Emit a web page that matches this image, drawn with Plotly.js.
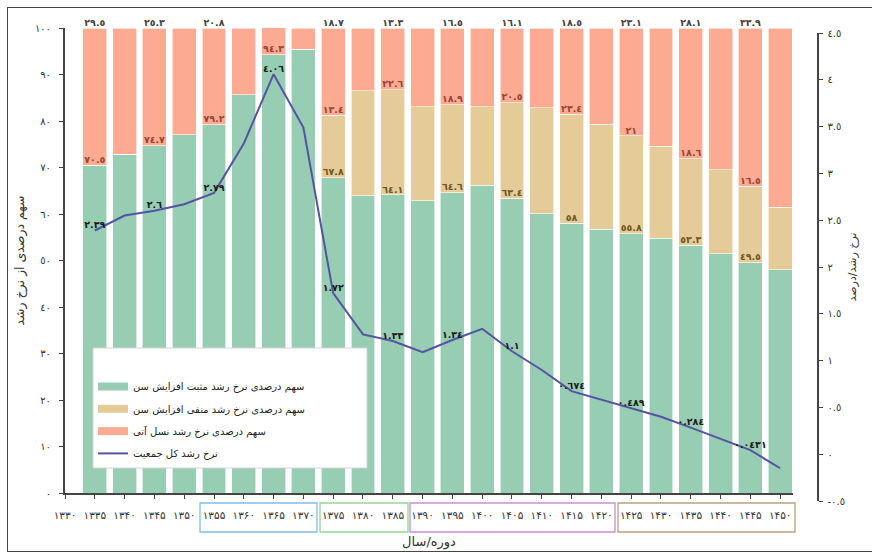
<!DOCTYPE html>
<html>
<head>
<meta charset="utf-8">
<script src="https://cdn.plot.ly/plotly-3.0.1.min.js"></script>
<style>
html,body{margin:0;padding:0;background:#fff;}
#wrap{position:relative;width:872px;height:552px;overflow:hidden;}
#chart{width:872px;height:552px;}
#frame{position:absolute;left:7px;top:7px;width:872px;height:545px;border:1.5px solid #444;box-sizing:border-box;pointer-events:none;}
</style>
</head>
<body>
<div id="wrap"><div id="chart"></div><div id="frame"></div></div>
<script>
// ---- data ----
const years = [1335,1340,1345,1350,1355,1360,1365,1370,1375,1380,1385,1390,1395,1400,1405,1410,1415,1420,1425,1430,1435,1440,1445,1450];
const positiveAging = [70.5,72.8,74.7,77.0,79.2,85.7,94.3,95.4,67.8,63.9,64.1,62.8,64.6,66.2,63.4,60.1,58,56.7,55.8,54.8,53.3,51.4,49.5,48.0];
const negativeAging = [0,0,0,0,0,0,0,0,13.4,22.6,22.6,20.3,18.9,16.9,20.5,22.8,23.4,22.6,21,19.8,18.6,18.1,16.5,13.4];
const nextGeneration = [29.5,27.2,25.3,23.0,20.8,14.3,5.71,4.6,18.7,13.5,13.3,16.9,16.5,16.9,16.1,17.1,18.5,20.7,23.1,25.4,28.1,30.5,33.9,38.6];
const totalGrowth = [2.39,2.55,2.6,2.67,2.79,3.32,4.06,3.49,1.72,1.28,1.21,1.09,1.22,1.34,1.1,0.90,0.674,0.58,0.489,0.40,0.284,0.16,0.0431,-0.15];
const growthLabelText = ['٢.٣٩','٢.٦','٢.٧٩','٤.٠٦','١.٧٢','١.٣٣','١.٣٤','١.١','٠.٦٧٤','٠.٤٨٩','٠.٢٨٤','٠.٠٤٣١'];

const xTickYears = [1330,1335,1340,1345,1350,1355,1360,1365,1370,1375,1380,1385,1390,1395,1400,1405,1410,1415,1420,1425,1430,1435,1440,1445,1450];
const xTickText = ['۱۳۳۰','۱۳۳۵','۱۳۴۰','۱۳۴۵','۱۳۵۰','۱۳۵۵','۱۳۶۰','۱۳۶۵','۱۳۷۰','۱۳۷۵','۱۳۸۰','۱۳۸۵','۱۳۹۰','۱۳۹۵','۱۴۰۰','۱۴۰۵','۱۴۱۰','۱۴۱۵','۱۴۲۰','۱۴۲۵','۱۴۳۰','۱۴۳۵','۱۴۴۰','۱۴۴۵','۱۴۵۰'];
const yTickVals = [0,10,20,30,40,50,60,70,80,90,100];
const yTickText = ['٠','١٠','٢٠','٣٠','٤٠','٥٠','٦٠','٧٠','٨٠','٩٠','١٠٠'];
const y2TickVals = [-0.5,0,0.5,1,1.5,2,2.5,3,3.5,4,4.5];
const y2TickText = ['-٠.٥','٠','٠.٥','١','١.٥','٢','٢.٥','٣','٣.٥','٤','٤.٥'];

const seriesNames = ['سهم درصدی نرخ رشد مثبت افزایش سن','سهم درصدی نرخ رشد منفی افزایش سن','سهم درصدی نرخ رشد نسل آتی','نرخ رشد کل جمعیت'];

// ---- helpers ----
const AR = '٠١٢٣٤٥٦٧٨٩';
const toAr = v => String(v).replace(/\d/g, d => AR[+d]);
const C_GREEN = '#97cdb2', C_TAN = '#e5cb98', C_SALMON = '#fcab92', C_LINE = '#5553a3';
const FONT = 'DejaVu Sans, Noto Sans, sans-serif';

const labeled = years.map((_, i) => i).filter(i => i % 2 === 0);
const tanLabeled = labeled.filter(i => negativeAging[i] > 0);

const traces = [
  {type:'bar', name:seriesNames[0], x:years, y:positiveAging, width:4, marker:{color:C_GREEN, line:{color:'#ffffff', width:0.6}}, showlegend:false, hoverinfo:'skip'},
  {type:'bar', name:seriesNames[1], x:years, y:negativeAging, width:4, marker:{color:C_TAN, line:{color:'#ffffff', width:0.6}}, showlegend:false, hoverinfo:'skip'},
  {type:'bar', name:seriesNames[2], x:years, y:nextGeneration, width:4, marker:{color:C_SALMON, line:{color:'#ffffff', width:0.6}}, showlegend:false, hoverinfo:'skip'},
  // segment labels
  {type:'scatter', mode:'text', x:labeled.map(i=>years[i]), y:labeled.map(i=>positiveAging[i]),
   text:labeled.map(i=>'<b>'+toAr(positiveAging[i])+'</b>'), textposition:'top center', cliponaxis:false,
   textfont:{family:FONT, size:9.5, color:labeled.map(i=> negativeAging[i] > 0 ? '#6e5826' : '#9a4433')}, showlegend:false, hoverinfo:'skip'},
  {type:'scatter', mode:'text', x:tanLabeled.map(i=>years[i]), y:tanLabeled.map(i=>positiveAging[i]+negativeAging[i]),
   text:tanLabeled.map(i=>'<b>'+toAr(negativeAging[i])+'</b>'), textposition:'top center', cliponaxis:false,
   textfont:{family:FONT, size:9.5, color:'#9a4433'}, showlegend:false, hoverinfo:'skip'},
  {type:'scatter', mode:'text', x:labeled.map(i=>years[i]), y:labeled.map(i=>positiveAging[i]+negativeAging[i]+nextGeneration[i]),
   text:labeled.map(i=>'<b>'+toAr(nextGeneration[i])+'</b>'), textposition:'top center', cliponaxis:false,
   textfont:{family:FONT, size:9.5, color:'#444'}, showlegend:false, hoverinfo:'skip'},
  // legend entries (wide swatches)
  {type:'scatter', mode:'lines', name:seriesNames[0], x:[null], y:[null], line:{color:C_GREEN, width:8}, legendgroup:'a', hoverinfo:'skip'},
  {type:'scatter', mode:'lines', name:seriesNames[1], x:[null], y:[null], line:{color:C_TAN, width:8}, legendgroup:'b', hoverinfo:'skip'},
  {type:'scatter', mode:'lines', name:seriesNames[2], x:[null], y:[null], line:{color:C_SALMON, width:8}, legendgroup:'c', hoverinfo:'skip'},
  // total growth line
  {type:'scatter', mode:'lines', name:seriesNames[3], x:years, y:totalGrowth, xaxis:'x', yaxis:'y2', line:{color:C_LINE, width:2}, legendgroup:'d', hoverinfo:'skip'},
  {type:'scatter', mode:'text', x:labeled.map(i=>years[i]), y:labeled.map(i=>totalGrowth[i]), xaxis:'x', yaxis:'y2',
   text:growthLabelText.map(t=>'<b>'+t+'</b>'), textposition:'top center', cliponaxis:false,
   textfont:{family:FONT, size:9.5, color:'#1a1a1a'}, showlegend:false, hoverinfo:'skip'}
];

const L = 65, R = 817, T = 28, B = 501; // plot-area pixels
const W = R - L, H = B - T;
const px = v => (v - L) / W;
const py = v => (B - v) / H;

function box(x0, x1, color){
  return {type:'rect', xref:'paper', yref:'paper', x0:px(x0), x1:px(x1), y0:py(532), y1:py(503),
          line:{color:color, width:1.3}, fillcolor:'rgba(0,0,0,0)', layer:'above'};
}

const layout = {
  width:872, height:552,
  margin:{l:L, r:872-R, t:T, b:552-B, pad:0},
  paper_bgcolor:'#ffffff', plot_bgcolor:'rgba(0,0,0,0)',
  barmode:'stack',
  font:{family:FONT, size:10, color:'#333'},
  xaxis:{domain:[0, (793-L)/W], range:[1330, 1452.15], anchor:'y',
    tickmode:'array', tickvals:xTickYears, ticktext:xTickText,
    ticks:'outside', ticklen:4, tickwidth:1, tickcolor:'#444',
    showline:true, linecolor:'#444', linewidth:1.5, showgrid:false, zeroline:false,
    ticklabelstandoff:8, tickfont:{family:FONT, size:10.5, color:'#333'},
    title:{text:'دوره/سال', font:{family:FONT, size:13, color:'#333'}, standoff:17}},
  yaxis:{domain:[(B-493)/H, 1], range:[0,100],
    tickmode:'array', tickvals:yTickVals, ticktext:yTickText,
    ticks:'outside', ticklen:4, tickwidth:1, tickcolor:'#444',
    showline:true, linecolor:'#444', linewidth:2, showgrid:false, zeroline:false,
    ticklabelstandoff:6, tickfont:{family:FONT, size:10, color:'#333'},
    title:{text:'سهم درصدی از نرخ رشد', font:{family:FONT, size:12.5, color:'#333'}, standoff:8}},
  yaxis2:{domain:[0, (B-33)/H], range:[-0.5,4.5], anchor:'free', position:1, side:'right',
    tickmode:'array', tickvals:y2TickVals, ticktext:y2TickText,
    ticks:'outside', ticklen:4, tickwidth:1, tickcolor:'#444',
    showline:true, linecolor:'#444', linewidth:1.5, showgrid:false, zeroline:false,
    ticklabelstandoff:3, tickfont:{family:FONT, size:10, color:'#333'},
    title:{text:'نرخ رشد/درصد', font:{family:FONT, size:11, color:'#333'}, standoff:4}},
  legend:{x:px(93), y:py(372), xanchor:'left', yanchor:'top', bgcolor:'rgba(0,0,0,0)', borderwidth:0,
    font:{family:FONT, size:10, color:'#222'}, traceorder:'grouped', tracegroupgap:3.3, itemwidth:30},
  shapes:[
    {type:'rect', xref:'paper', yref:'paper', x0:px(93), x1:px(367), y0:py(468), y1:py(348),
     fillcolor:'#ffffff', line:{color:'#d4d4d4', width:1}, layer:'above'},
    box(200, 317, '#7fbfea'),
    box(320, 408, '#92d892'),
    box(410, 615, '#c98ed2'),
    box(618, 795, '#bf9f80')
  ]
};

Plotly.newPlot('chart', traces, layout, {displayModeBar:false, staticPlot:true});
</script>
</body>
</html>
